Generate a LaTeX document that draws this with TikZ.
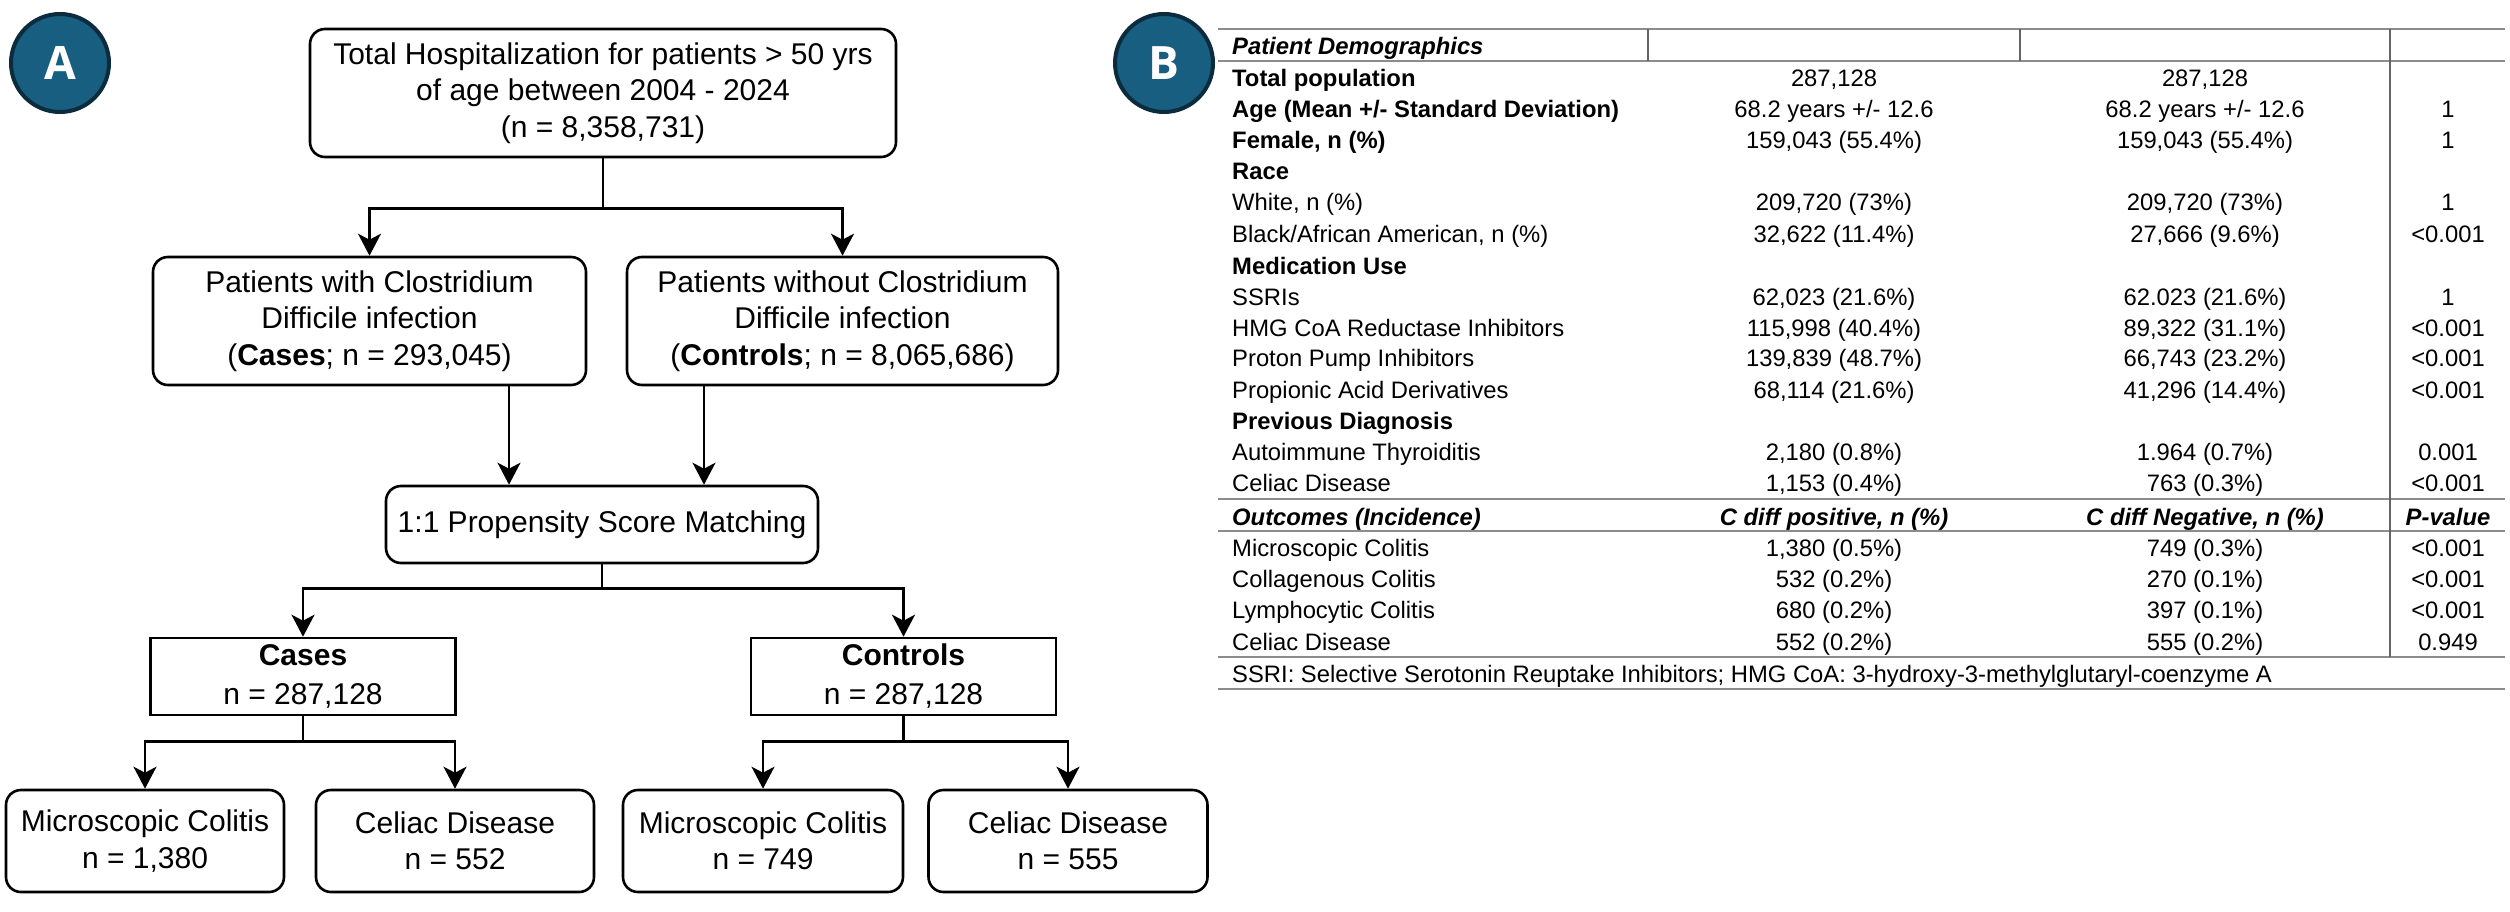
\documentclass[tikz,border=0pt]{standalone}
\usepackage{fontspec}
\setmainfont{Liberation Sans}
\newfontfamily\circfont{Open Sans}
\usetikzlibrary{arrows.meta,calc}
\definecolor{circfill}{RGB}{24,94,128}
\definecolor{circedge}{RGB}{12,44,62}
\definecolor{rulegray}{RGB}{140,140,140}
\definecolor{divgray}{RGB}{100,100,100}
\newcommand\tabrow[6]{%
  \node[lab] (#1l) at (1232,#2+8) {#3};
  \node[val] (#1a) at (1834,#2+8) {#4};
  \node[val] (#1b) at (2205,#2+8) {#5};
  \node[val] (#1c) at (2448,#2+8) {#6};}
\newcommand\tabhead[3]{\node[lab] (#1l) at (1232,#2+8) {#3};}
\begin{document}
\begin{tikzpicture}[x=1pt,y=-1pt,
  flowtxt/.style={font=\fontsize{30}{36.5}\selectfont, align=center, inner sep=0pt},
  rbox/.style={flowtxt, draw, line width=2.6pt, rounded corners=15pt},
  sbox/.style={flowtxt, draw, line width=2.6pt, font=\fontsize{30}{39}\selectfont},
  arr/.style={line width=2.6pt, -{Stealth[length=22pt,width=23pt,inset=6pt]}},
  badge/.style={circle, minimum size=98pt, inner sep=0pt, fill=circfill, draw=circedge, line width=4pt, text=white, font=\circfont\bfseries\fontsize{46}{46}\selectfont},
  lab/.style={anchor=base west, inner sep=0pt, font=\fontsize{23.8}{28}\selectfont},
  val/.style={anchor=base, inner sep=0pt, font=\fontsize{23.8}{28}\selectfont},
  hrule/.style={draw=rulegray, line width=2pt},
  vrule/.style={draw=divgray, line width=1.3pt}]
\useasboundingbox (0,0) rectangle (2510,912);

% ---------- Panel A ----------
\node[badge] (ca) at (60,63) {A};
\node[rbox, minimum width=586pt, minimum height=128pt] (top) at (603,93)
  {Total Hospitalization for patients > 50 yrs\\of age between 2004 - 2024\\(n = 8,358,731)};
\node[rbox, minimum width=433pt, minimum height=128pt] (cl) at (369.5,321)
  {Patients with Clostridium\\Difficile infection\\(\textbf{Cases}; n = 293,045)};
\node[rbox, minimum width=431pt, minimum height=128pt] (cr) at (842.5,321)
  {Patients without Clostridium\\Difficile infection\\(\textbf{Controls}; n = 8,065,686)};
\node[rbox, minimum width=432pt, minimum height=77pt] (pm) at (602,524.5)
  {1:1 Propensity Score Matching};
\node[sbox, minimum width=305pt, minimum height=77pt] (cases) at (303,676.5)
  {\textbf{Cases}\\n = 287,128};
\node[sbox, minimum width=305pt, minimum height=77pt] (ctrl) at (903.5,676.5)
  {\textbf{Controls}\\n = 287,128};
\node[rbox, minimum width=278pt, minimum height=102pt] (mc1) at (145,841)
  {Microscopic Colitis\\n = 1,380};
\node[rbox, minimum width=278pt, minimum height=102pt] (cd1) at (455,841)
  {Celiac Disease\\n = 552};
\node[rbox, minimum width=280pt, minimum height=102pt] (mc2) at (763,841)
  {Microscopic Colitis\\n = 749};
\node[rbox, minimum width=279pt, minimum height=102pt] (cd2) at (1068,841)
  {Celiac Disease\\n = 555};

\draw[arr] (top.south) -- ++(0,50) -| (cl.north);
\draw[arr] (top.south) -- ++(0,50) -| (cr.north);
\draw[arr] ([xshift=-93pt]pm.north |- cl.south) -- ([xshift=-93pt]pm.north);
\draw[arr] ([xshift=102pt]pm.north |- cr.south) -- ([xshift=102pt]pm.north);
\draw[arr] (pm.south) -- ++(0,24) -| (cases.north);
\draw[arr] (pm.south) -- ++(0,24) -| (ctrl.north);
\draw[arr] (cases.south) -- ++(0,25) -| (mc1.north);
\draw[arr] (cases.south) -- ++(0,25) -| (cd1.north);
\draw[arr] (ctrl.south) -- ++(0,25) -| (mc2.north);
\draw[arr] (ctrl.south) -- ++(0,25) -| (cd2.north);

% ---------- Panel B ----------
\node[badge] (cb) at (1164,63) {B};

\draw[hrule] (1218,29) -- (2505,29);
\draw[hrule] (1218,61) -- (2505,61);
\draw[hrule] (1218,499) -- (2505,499);
\draw[hrule] (1218,531) -- (2505,531);
\draw[hrule] (1218,657) -- (2505,657);
\draw[hrule] (1218,689) -- (2505,689);
\draw[vrule] (1648,29) -- (1648,61);
\draw[vrule] (2020,29) -- (2020,61);
\draw[vrule] (2390,29) -- (2390,657);

\tabhead{r0}{47}{\textbf{\textit{Patient Demographics}}}
\node[lab] (r1l) at (1232,79+8) {\textbf{Total population}};
\node[val] (r1a) at (1834,79+8) {287,128};
\node[val] (r1b) at (2205,79+8) {287,128};
\tabrow{r2}{110}{\textbf{Age (Mean +/- Standard Deviation)}}{68.2 years +/- 12.6}{68.2 years +/- 12.6}{1}
\tabrow{r3}{141}{\textbf{Female, n (\%)}}{159,043 (55.4\%)}{159,043 (55.4\%)}{1}
\tabhead{r4}{172}{\textbf{Race}}
\tabrow{r5}{203}{White, n (\%)}{209,720 (73\%)}{209,720 (73\%)}{1}
\tabrow{r6}{234}{Black/African American, n (\%)}{32,622 (11.4\%)}{27,666 (9.6\%)}{<0.001}
\tabhead{r7}{266}{\textbf{Medication Use}}
\tabrow{r8}{297}{SSRIs}{62,023 (21.6\%)}{62.023 (21.6\%)}{1}
\tabrow{r9}{328}{HMG CoA Reductase Inhibitors}{115,998 (40.4\%)}{89,322 (31.1\%)}{<0.001}
\tabrow{r10}{358}{Proton Pump Inhibitors}{139,839 (48.7\%)}{66,743 (23.2\%)}{<0.001}
\tabrow{r11}{390}{Propionic Acid Derivatives}{68,114 (21.6\%)}{41,296 (14.4\%)}{<0.001}
\tabhead{r12}{421}{\textbf{Previous Diagnosis}}
\tabrow{r13}{452}{Autoimmune Thyroiditis}{2,180 (0.8\%)}{1.964 (0.7\%)}{0.001}
\tabrow{r14}{483}{Celiac Disease}{1,153 (0.4\%)}{763 (0.3\%)}{<0.001}
\tabrow{r15}{517}{\textbf{\textit{Outcomes (Incidence)}}}{\textbf{\textit{C diff positive, n (\%)}}}{\textbf{\textit{C diff Negative, n (\%)}}}{\textbf{\textit{P-value}}}
\tabrow{r16}{548}{Microscopic Colitis}{1,380 (0.5\%)}{749 (0.3\%)}{<0.001}
\tabrow{r17}{579}{Collagenous Colitis}{532 (0.2\%)}{270 (0.1\%)}{<0.001}
\tabrow{r18}{610}{Lymphocytic Colitis}{680 (0.2\%)}{397 (0.1\%)}{<0.001}
\tabrow{r19}{642}{Celiac Disease}{552 (0.2\%)}{555 (0.2\%)}{0.949}
\tabhead{r20}{674}{SSRI: Selective Serotonin Reuptake Inhibitors; HMG CoA: 3-hydroxy-3-methylglutaryl-coenzyme A}
\end{tikzpicture}
\end{document}
